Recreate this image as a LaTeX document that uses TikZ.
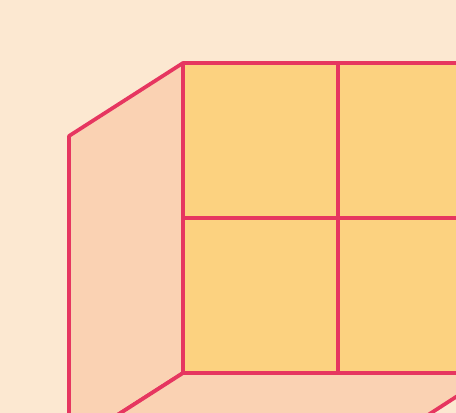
\documentclass[tikz,border=0pt]{standalone}
\definecolor{paper}{RGB}{252,232,209}
\definecolor{sidewall}{RGB}{250,210,179}
\definecolor{backwall}{RGB}{252,210,128}
\definecolor{edge}{RGB}{230,54,96}

\begin{document}
\begin{tikzpicture}[x=.75pt,y=-.75pt,
  face/.style={draw=edge,line width=2.8pt,line join=bevel},
  side/.style={face,fill=sidewall},
  back/.style={face,fill=backwall}]
  \useasboundingbox (0,0) rectangle (456,413);
  \clip (0,0) rectangle (456,413);
  \fill[paper] (0,0) rectangle (456,413);
  \coordinate (tl) at (183,63);
  \coordinate (tm) at (338,63);
  \coordinate (tr) at (493,63);
  \coordinate (ml) at (183,218);
  \coordinate (mr) at (493,218);
  \coordinate (bl) at (183,373);
  \coordinate (bm) at (338,373);
  \coordinate (br) at (493,373);
  \coordinate (ftl) at (69,136);
  \coordinate (fbl) at (69,446);
  \coordinate (fbr) at (380,446);
  \draw[side] (tl) -- (ftl) -- (fbl) -- (bl) -- cycle;
  \draw[side] (bl) -- (br) -- (fbr) -- (fbl) -- cycle;
  \draw[back] (tl) -- (tr) -- (br) -- (bl) -- cycle;
  \draw[face] (tm) -- (bm);
  \draw[face] (ml) -- (mr);
\end{tikzpicture}
\end{document}
